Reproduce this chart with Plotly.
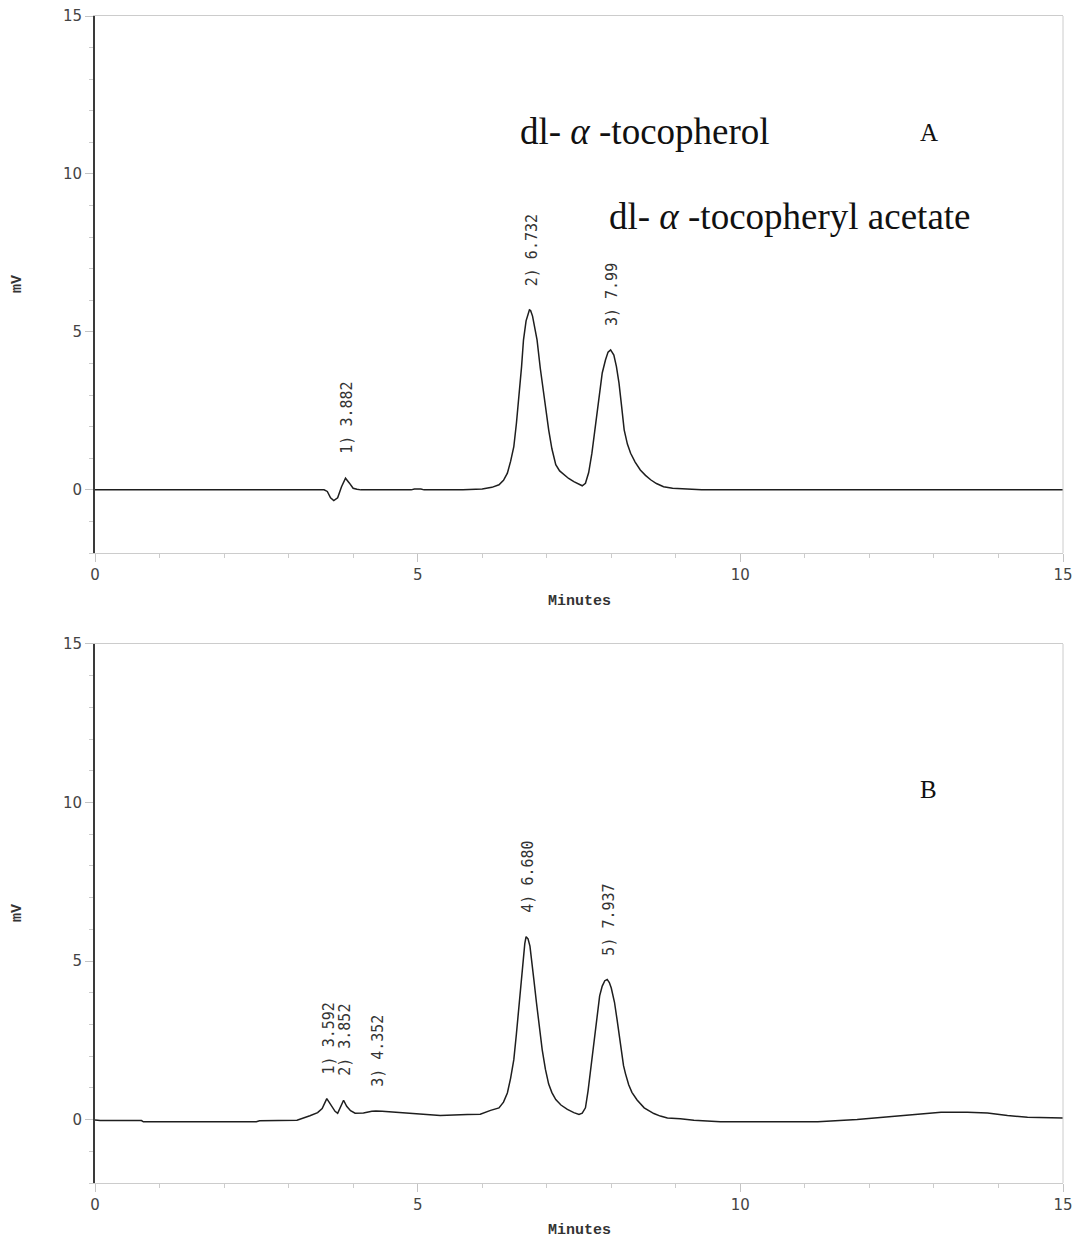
import plotly.graph_objects as go

# Chromatogram A: retention time (min) and detector signal (mV)
time_a = [0.0, 2.5, 3.55, 3.60, 3.65, 3.70, 3.76, 3.82, 3.882, 3.94, 4.00, 4.06, 4.12,
          4.90, 4.95, 5.05, 5.10, 5.70, 5.85, 6.00, 6.15, 6.26, 6.33, 6.39, 6.44, 6.49,
          6.53, 6.57, 6.61, 6.64, 6.68, 6.732, 6.75, 6.78, 6.81, 6.85, 6.90, 6.95, 6.99,
          7.03, 7.08, 7.14, 7.20, 7.27, 7.34, 7.42, 7.50, 7.55, 7.60, 7.65, 7.70, 7.75,
          7.81, 7.86, 7.91, 7.95, 7.99, 8.04, 8.08, 8.12, 8.16, 8.20, 8.25, 8.30, 8.37,
          8.45, 8.53, 8.61, 8.70, 8.81, 8.95, 9.10, 9.40, 15.0]
signal_a = [0.0, 0.0, 0.0, -0.05, -0.25, -0.34, -0.25, 0.10, 0.37, 0.22, 0.05, 0.02, 0.0,
            0.0, 0.03, 0.03, 0.0, 0.0, 0.02, 0.03, 0.08, 0.16, 0.30, 0.53, 0.90, 1.37,
            2.10, 2.95, 3.90, 4.75, 5.35, 5.70, 5.68, 5.50, 5.20, 4.75, 3.85, 3.06, 2.45,
            1.90, 1.30, 0.80, 0.60, 0.47, 0.36, 0.26, 0.17, 0.13, 0.21, 0.55, 1.16, 2.00,
            2.95, 3.70, 4.11, 4.36, 4.43, 4.27, 3.90, 3.38, 2.65, 1.90, 1.45, 1.16, 0.88,
            0.63, 0.46, 0.32, 0.20, 0.10, 0.05, 0.03, 0.0, 0.0]

# Chromatogram B
time_b = [0.0, 0.08, 0.72, 0.75, 2.50, 2.55, 3.13, 3.25, 3.33, 3.45, 3.52, 3.592, 3.66,
          3.72, 3.76, 3.81, 3.852, 3.90, 3.96, 4.03, 4.16, 4.29, 4.352, 4.45, 4.63, 4.94,
          5.35, 5.77, 5.97, 6.13, 6.26, 6.33, 6.39, 6.44, 6.49, 6.53, 6.57, 6.60, 6.63,
          6.66, 6.680, 6.71, 6.74, 6.77, 6.80, 6.84, 6.88, 6.93, 6.98, 7.03, 7.08, 7.14,
          7.22, 7.32, 7.42, 7.50, 7.55, 7.60, 7.64, 7.68, 7.73, 7.78, 7.82, 7.86, 7.90,
          7.937, 7.97, 8.00, 8.05, 8.09, 8.14, 8.19, 8.22, 8.27, 8.32, 8.40, 8.51, 8.60,
          8.66, 8.76, 8.87, 9.07, 9.28, 9.69, 10.3, 11.2, 11.81, 12.23, 12.64, 13.11,
          13.52, 13.83, 14.14, 14.45, 15.0]
signal_b = [-0.01, -0.03, -0.03, -0.07, -0.07, -0.04, -0.02, 0.05, 0.12, 0.22, 0.35, 0.66, 0.45,
            0.26, 0.20, 0.45, 0.61, 0.42, 0.28, 0.20, 0.21, 0.26, 0.27, 0.26, 0.23, 0.19,
            0.13, 0.16, 0.17, 0.29, 0.37, 0.55, 0.84, 1.30, 1.89, 2.70, 3.57, 4.35, 5.05,
            5.55, 5.77, 5.70, 5.47, 5.00, 4.42, 3.70, 2.94, 2.20, 1.58, 1.12, 0.85, 0.63,
            0.46, 0.32, 0.22, 0.16, 0.20, 0.37, 0.90, 1.58, 2.50, 3.37, 3.90, 4.21, 4.38,
            4.42, 4.32, 4.15, 3.70, 3.15, 2.35, 1.70, 1.45, 1.10, 0.86, 0.62, 0.37, 0.25,
            0.19, 0.11, 0.05, 0.03, -0.02, -0.07, -0.07, -0.07, 0.0, 0.07, 0.14, 0.23,
            0.23, 0.21, 0.13, 0.07, 0.05]

# Integrated peaks: label text, retention time, apex height
peaks_a_rt = [3.882, 6.732, 7.99]
peaks_a_text = ["1) 3.882", "2) 6.732", "3) 7.99"]
peaks_a_height = [0.37, 5.70, 4.43]

peaks_b_rt = [3.592, 3.852, 4.352, 6.680, 7.937]
peaks_b_text = ["1) 3.592", "2) 3.852", "3) 4.352", "4) 6.680", "5) 7.937"]
peaks_b_height = [0.66, 0.61, 0.27, 5.77, 4.42]

x_ticks = [0, 5, 10, 15]
y_ticks = [0, 5, 10, 15]

trace_color = "#1e1e1e"
tick_font = dict(family="DejaVu Sans", size=15, color="#444444")
mono_font = dict(family="DejaVu Sans Mono", size=15, color="#333333")
title_font = dict(family="Liberation Mono", size=15, color="#333333", weight="bold")
serif_font = dict(family="Liberation Serif", size=37, color="#111111")
panel_font = dict(family="Liberation Serif", size=25, color="#111111")

fig = go.Figure()
fig.add_trace(go.Scatter(x=time_a, y=signal_a, mode="lines", xaxis="x", yaxis="y",
                         line=dict(color=trace_color, width=1.5), showlegend=False))
fig.add_trace(go.Scatter(x=time_b, y=signal_b, mode="lines", xaxis="x2", yaxis="y2",
                         line=dict(color=trace_color, width=1.5), showlegend=False))

xaxis_style = dict(range=[0, 15], tickvals=x_ticks, ticks="outside", ticklen=8,
                   tickcolor="#c4c4c4", showline=True, linecolor="#cccccc", linewidth=1,
                   mirror=True, showgrid=False, zeroline=False, tickfont=tick_font,
                   automargin=False,
                   minor=dict(dtick=1, ticks="outside", ticklen=4, tickcolor="#cccccc"))
yaxis_style = dict(range=[-2, 15], tickvals=y_ticks, ticks="outside", ticklen=8,
                   tickcolor="#c4c4c4", showline=True, linecolor="#3a3a3a", linewidth=2,
                   showgrid=False, zeroline=False, tickfont=tick_font, automargin=False,
                   minor=dict(dtick=1, ticks="outside", ticklen=4, tickcolor="#cccccc"))

fig.update_layout(
    width=1082, height=1240,
    margin=dict(l=95, r=19, t=16, b=57),
    paper_bgcolor="white", plot_bgcolor="white",
    xaxis=dict(domain=[0, 1], anchor="y", **xaxis_style),
    yaxis=dict(domain=[0.5398, 1.0], anchor="x", **yaxis_style),
    xaxis2=dict(domain=[0, 1], anchor="y2", **xaxis_style),
    yaxis2=dict(domain=[0.0, 0.4619], anchor="x2", **yaxis_style),
)

# right-hand frame edge of each panel
for xr, yr in (("x", "y"), ("x2", "y2")):
    fig.add_shape(type="line", xref=f"{xr} domain", yref=f"{yr} domain",
                  x0=1, x1=1, y0=0, y1=1, line=dict(color="#cccccc", width=1))

annotations = []

# rotated peak labels above each apex
for rts, texts, heights, xr, yr in ((peaks_a_rt, peaks_a_text, peaks_a_height, "x", "y"),
                                    (peaks_b_rt, peaks_b_text, peaks_b_height, "x2", "y2")):
    for rt, txt, h in zip(rts, texts, heights):
        annotations.append(dict(x=rt, y=h, xref=xr, yref=yr, text=txt, textangle=-90,
                                showarrow=False, xanchor="center", yanchor="bottom",
                                yshift=22, xshift=2, font=mono_font))

# axis titles
for ypos in (0.770, 0.231):
    annotations.append(dict(x=-0.080, y=ypos, xref="paper", yref="paper", text="mV",
                            textangle=-90, showarrow=False, font=title_font,
                            xanchor="center", yanchor="middle"))
for ypos in (0.4979, -0.0403):
    annotations.append(dict(x=0.5, y=ypos, xref="paper", yref="paper", text="Minutes",
                            showarrow=False, font=title_font,
                            xanchor="center", yanchor="middle"))

# compound names and panel letters
annotations.append(dict(x=6.56, y=11.35, xref="x", yref="y",
                        text="dl- <i>α</i> -tocopherol", showarrow=False,
                        xanchor="left", yanchor="middle", font=serif_font))
annotations.append(dict(x=7.94, y=8.64, xref="x", yref="y",
                        text="dl- <i>α</i> -tocopheryl acetate", showarrow=False,
                        xanchor="left", yanchor="middle", font=serif_font))
annotations.append(dict(x=12.92, y=11.3, xref="x", yref="y", text="A", showarrow=False,
                        xanchor="center", yanchor="middle", font=panel_font))
annotations.append(dict(x=12.92, y=10.41, xref="x2", yref="y2", text="B", showarrow=False,
                        xanchor="center", yanchor="middle", font=panel_font))

fig.update_layout(annotations=annotations)

fig.write_html("out.html")
